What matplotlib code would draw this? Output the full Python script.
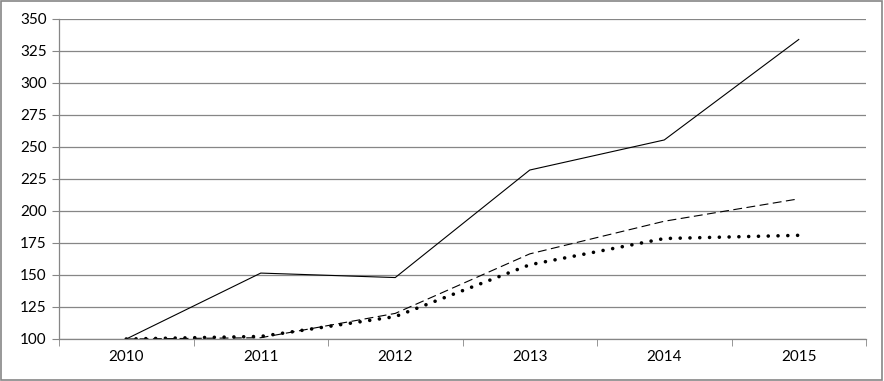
import matplotlib.pyplot as plt
from matplotlib.patches import Rectangle

plt.rcParams['font.family'] = ['Lato', 'DejaVu Sans']

years = ['2010', '2011', '2012', '2013', '2014', '2015']
solid = [100, 151.5, 148, 232, 255.5, 334]
dashed = [100, 101, 120, 166.5, 192, 209.5]
dotted = [100, 102, 117.5, 158, 178.5, 181]

grid_col = '#868686'

fig = plt.figure(figsize=(8.84, 3.81), dpi=100)
ax = fig.add_axes([59/884, 1 - 339/381, (866 - 59)/884, (339 - 19)/381])

x = list(range(len(years)))
ax.plot(x, solid, color='black', lw=0.8)
ax.plot(x, dashed, color='black', lw=0.8, linestyle=(0, (8, 4)))
ax.plot(x, dotted, color='black', lw=2.6, linestyle=(0, (0.01, 2.7)),
        dash_capstyle='round')

ax.set_xlim(-0.5, len(years) - 0.5)
ax.set_ylim(100, 350)
ax.set_yticks(range(100, 351, 25))
ax.set_xticks(x)
ax.set_xticklabels(years)
ax.set_xticks([i - 0.5 for i in range(len(years) + 1)], minor=True)
ax.tick_params(axis='x', which='major', length=0, pad=8, labelsize=11)
ax.tick_params(axis='x', which='minor', length=5, color=grid_col, direction='out')
ax.tick_params(axis='y', length=5, color=grid_col, labelsize=11, pad=4)

ax.grid(axis='y', color=grid_col, lw=0.9)
ax.set_axisbelow(True)
for s in ['top', 'right']:
    ax.spines[s].set_visible(False)
for s in ['left', 'bottom']:
    ax.spines[s].set_color(grid_col)
    ax.spines[s].set_linewidth(0.9)

fig.patches.append(Rectangle((0.001, 0.002), 0.997, 0.995, transform=fig.transFigure,
                             fill=False, edgecolor='#868686', lw=1.2))

fig.savefig('out.png', dpi=100)
